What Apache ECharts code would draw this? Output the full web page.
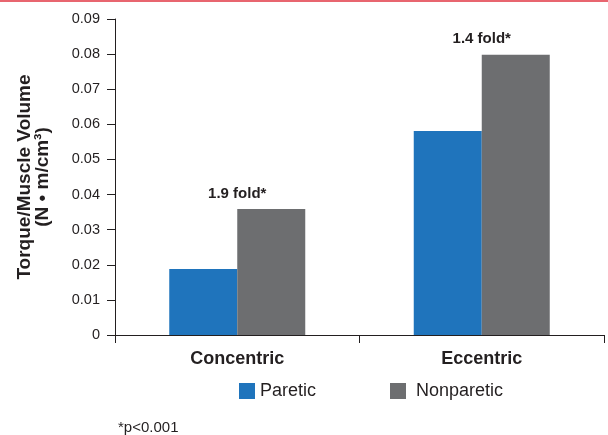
<!DOCTYPE html>
<html>
<head>
<meta charset="utf-8">
<script src="https://cdn.jsdelivr.net/npm/echarts@6/dist/echarts.min.js"></script>
<style>html,body{margin:0;padding:0;background:#fff;}#c{width:608px;height:435px;}</style>
</head>
<body>
<div id="c"></div>
<script>
var categories = ['Concentric', 'Eccentric'];
var paretic = [0.0188, 0.0581];
var nonparetic = [0.0359, 0.0798];
var foldLabels = ['1.9 fold*', '1.4 fold*'];
var yTicks = { min: 0, max: 0.09, interval: 0.01 };
var seriesNames = ['Paretic', 'Nonparetic'];

var FONT = '"Liberation Sans", Arial, sans-serif';
var TXT = '#231f20';
var legendText = { fontFamily: FONT, fontSize: 18, color: TXT };
var chart = echarts.init(document.getElementById('c'), null, { renderer: 'canvas' });
chart.setOption({
  animation: false,
  textStyle: { fontFamily: FONT },
  grid: { left: 115, right: 4, top: 19, bottom: 100, containLabel: false },
  legend: [
    {
      data: [seriesNames[0]],
      left: 239, top: 382,
      itemWidth: 16, itemHeight: 16, icon: 'rect', padding: 0,
      textStyle: legendText
    },
    {
      data: [seriesNames[1]],
      left: 390, top: 382,
      itemWidth: 16, itemHeight: 16, icon: 'rect', padding: 0,
      textStyle: Object.assign({}, legendText, { padding: [0, 0, 0, 5] })
    }
  ],
  xAxis: {
    type: 'category',
    data: categories,
    axisLine: { lineStyle: { color: TXT, width: 1 } },
    axisTick: { show: true, length: 8, lineStyle: { color: TXT } },
    axisLabel: { fontFamily: FONT, fontSize: 18, fontWeight: 'bold', color: TXT, margin: 15 }
  },
  yAxis: {
    type: 'value',
    min: yTicks.min, max: yTicks.max, interval: yTicks.interval,
    name: 'Torque/Muscle Volume\n(N • m/cm³)',
    nameLocation: 'middle',
    nameGap: 63,
    nameTextStyle: { fontFamily: FONT, fontSize: 19, fontWeight: 'bold', color: TXT, lineHeight: 18 },
    axisLine: { show: true, lineStyle: { color: TXT, width: 1 } },
    axisTick: { show: true, length: 8, lineStyle: { color: TXT } },
    splitLine: { show: false },
    axisLabel: {
      fontFamily: FONT, fontSize: 14.5, color: TXT, margin: 15,
      formatter: function (v) { return v === 0 ? '0' : v.toFixed(2); }
    }
  },
  series: [
    {
      name: seriesNames[0], type: 'bar', data: paretic,
      barWidth: 68, barGap: '0%',
      itemStyle: { color: '#1f74bc' }
    },
    {
      name: seriesNames[1], type: 'bar', data: nonparetic,
      barWidth: 68,
      itemStyle: { color: '#6d6e70' },
      label: {
        show: true, position: 'top', distance: 8, offset: [-34, 0],
        fontFamily: FONT, fontSize: 15, fontWeight: 'bold', color: TXT,
        formatter: function (p) { return foldLabels[p.dataIndex]; }
      }
    }
  ],
  graphic: [
    { type: 'rect', left: 0, top: 0, shape: { width: 608, height: 2 }, style: { fill: '#e8656f' } },
    { type: 'text', left: 118, top: 420, style: { text: '*p<0.001', font: '15px ' + FONT, fill: TXT } }
  ]
});
</script>
</body>
</html>
